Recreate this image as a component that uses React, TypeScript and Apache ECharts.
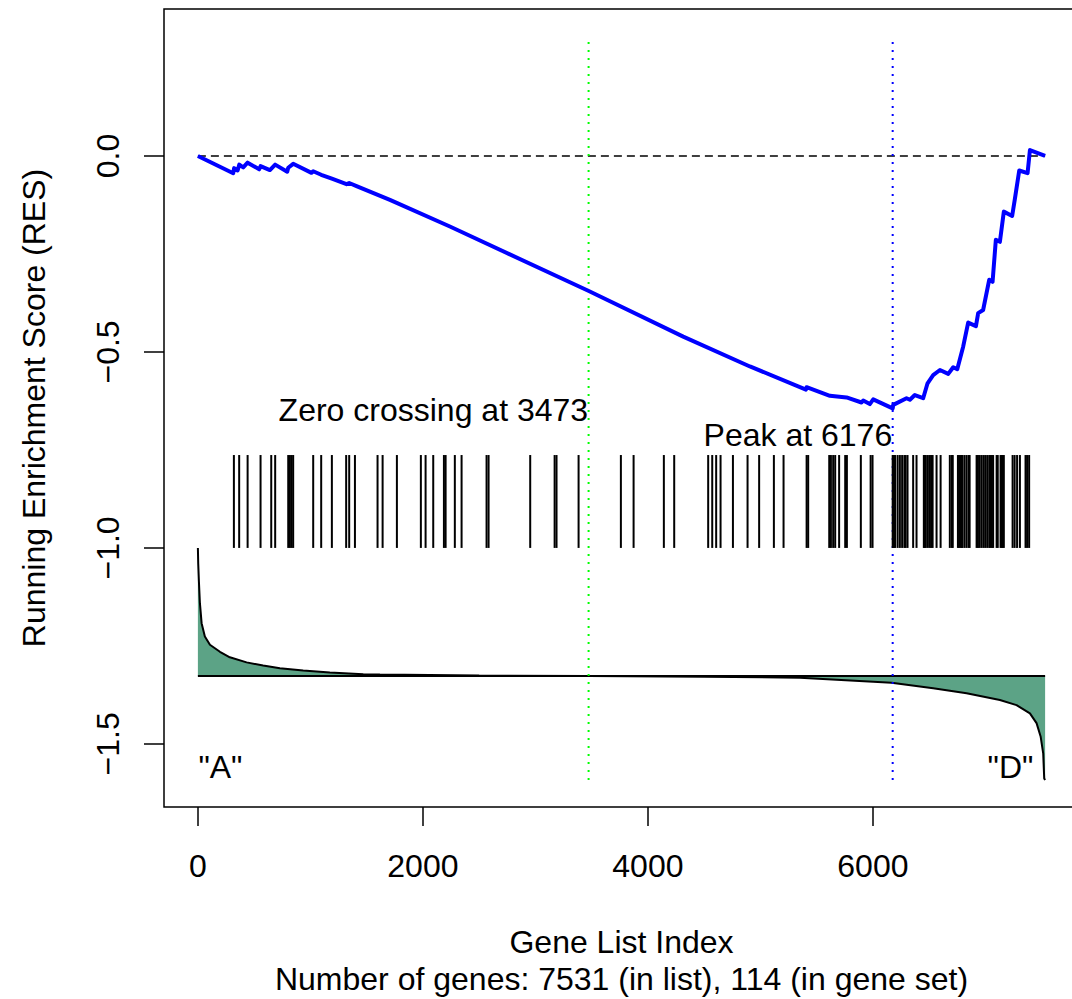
import React, { useEffect, useRef } from "react";
import * as echarts from "echarts";

// ---- data ----
const N_GENES = 7531;
const X_TICKS = [0, 2000, 4000, 6000];
const Y_TICKS = [-1.5, -1.0, -0.5, 0.0];

// running enrichment score (vertices of the curve)
const esIdx = [0, 314, 322, 353, 368, 403, 442, 545, 557, 640, 687, 794, 803, 847, 1010, 1025, 1096, 1191, 1321, 1345, 1410, 1707, 2240, 3470, 4314, 4907, 5405, 5411, 5618, 5766, 5899, 5914, 5973, 6003, 6176, 6181, 6299, 6329, 6373, 6447, 6486, 6536, 6596, 6670, 6714, 6750, 6803, 6847, 6916, 6936, 6980, 7034, 7064, 7093, 7129, 7164, 7238, 7262, 7301, 7375, 7396, 7531];
const esVal = [0, -0.044, -0.031, -0.037, -0.022, -0.029, -0.017, -0.034, -0.026, -0.036, -0.022, -0.04, -0.03, -0.02, -0.043, -0.039, -0.048, -0.058, -0.072, -0.069, -0.077, -0.112, -0.18, -0.344, -0.461, -0.537, -0.596, -0.59, -0.612, -0.616, -0.629, -0.624, -0.633, -0.621, -0.644, -0.635, -0.618, -0.622, -0.61, -0.618, -0.58, -0.559, -0.546, -0.556, -0.539, -0.544, -0.486, -0.425, -0.434, -0.401, -0.393, -0.316, -0.321, -0.214, -0.219, -0.142, -0.153, -0.11, -0.037, -0.044, 0.015, 0.0];

// positions of the gene-set members in the ranked list
const hits = [320, 367, 442, 557, 652, 687, 803, 818, 833, 847, 1025, 1096, 1191, 1318, 1345, 1396, 1597, 1642, 1769, 1982, 2024, 2092, 2187, 2202, 2284, 2344, 2566, 2584, 2954, 3171, 3188, 3384,
  3760, 3873, 4142, 4234, 4536, 4572, 4607, 4646, 4756, 4886, 4989, 5120, 5206, 5411, 5425, 5612, 5627, 5647, 5665, 5700, 5754, 5769, 5893, 5980, 5997,
  6176, 6180, 6190, 6198, 6220, 6240, 6260, 6280, 6291, 6308, 6358, 6388, 6453, 6460, 6471, 6489, 6507, 6520, 6531, 6566, 6602, 6684, 6702, 6710, 6756, 6767, 6780, 6790, 6797, 6815, 6833, 6851, 6860, 6922, 6933, 6945, 6963, 6981, 6998, 7016, 7034, 7045, 7058, 7069, 7100, 7110, 7135, 7145, 7153, 7164, 7242, 7260, 7282, 7307, 7357, 7371, 7389];

// scaled ranked-list metric (drawn in the lower band)
const rankIdx = [0, 3, 9, 18, 33, 62, 107, 196, 284, 433, 580, 729, 936, 1173, 1470, 1618, 2500, 3473, 4500, 5351, 6166, 6536, 6833, 7129, 7277, 7396, 7455, 7491, 7514, 7523, 7531];
const rankVal = [-1.0, -1.04, -1.085, -1.141, -1.192, -1.226, -1.247, -1.265, -1.279, -1.292, -1.3, -1.307, -1.313, -1.318, -1.322, -1.323, -1.3255, -1.327, -1.3285, -1.331, -1.344, -1.358, -1.371, -1.388, -1.401, -1.422, -1.447, -1.481, -1.524, -1.588, -1.592];
const RANK_BASE = -1.327;

const ZERO_CROSS = 3473;
const PEAK = 6176;

const HIT_TOP = -0.763;
const HIT_BOTTOM = -1.0;
const VLINE_TOP = 0.291;
const VLINE_BOTTOM = -1.592;

const X_MIN = -301.24;
const X_MAX = 7832.24;
const Y_MIN = -1.661;
const Y_MAX = 0.375;

const FONT = '"Liberation Sans", Arial, Helvetica, sans-serif';
const FS = 32;

export default function App() {
  const ref = useRef<HTMLDivElement>(null);
  useEffect(() => {
    if (!ref.current) return;
    const chart = echarts.init(ref.current, null, { renderer: "svg" });
    const esData = esIdx.map((x, i) => [x, esVal[i]]);
    const rankData = rankIdx.map((x, i) => [x, rankVal[i]]);
    const textSeries = (x: number, y: number, text: string, pos: string) => ({
      type: "scatter",
      symbolSize: 1,
      itemStyle: { color: "rgba(0,0,0,0)", opacity: 1 },
      silent: true,
      data: [[x, y]],
      label: {
        show: true,
        formatter: text,
        position: pos,
        distance: 0,
        fontSize: FS,
        fontFamily: FONT,
        color: "#000",
        opacity: 1,
      },
      z: 7,
    });
    const option: any = {
      animation: false,
      grid: {
        left: 164,
        right: -7,
        top: 9,
        bottom: 192,
        show: true,
        borderColor: "#000",
        borderWidth: 1.5,
        backgroundColor: "transparent",
        containLabel: false,
        outerBoundsMode: "none",
      },
      xAxis: {
        type: "value",
        min: X_MIN,
        max: X_MAX,
        splitLine: { show: false },
        axisLine: { show: false, onZero: false },
        axisTick: { show: true, customValues: X_TICKS, length: 19, lineStyle: { color: "#000", width: 1.5 } },
        axisLabel: {
          customValues: X_TICKS,
          fontSize: FS,
          fontFamily: FONT,
          color: "#000",
          margin: 43,
          formatter: (v: number) => String(v),
        },
      },
      yAxis: {
        type: "value",
        min: Y_MIN,
        max: Y_MAX,
        splitLine: { show: false },
        axisLine: { show: false, onZero: false },
        axisTick: { show: true, customValues: Y_TICKS, length: 20, lineStyle: { color: "#000", width: 1.5 } },
        axisLabel: {
          customValues: Y_TICKS,
          rotate: 90,
          fontSize: FS,
          fontFamily: FONT,
          color: "#000",
          margin: 40,
          formatter: (v: number) => v.toFixed(1).replace("-", "\u2212"),
        },
      },
      graphic: [
        {
          type: "text",
          x: 621.5,
          y: 942,
          style: { text: "Gene List Index", fontSize: FS, fontFamily: FONT, fill: "#000", align: "center", verticalAlign: "middle" },
        },
        {
          type: "text",
          x: 621.5,
          y: 979,
          style: {
            text: "Number of genes: 7531 (in list), 114 (in gene set)",
            fontSize: FS,
            fontFamily: FONT,
            fill: "#000",
            align: "center",
            verticalAlign: "middle",
          },
        },
        {
          type: "text",
          x: 34,
          y: 408,
          rotation: Math.PI / 2,
          style: {
            text: "Running Enrichment Score (RES)",
            fontSize: FS,
            fontFamily: FONT,
            fill: "#000",
            align: "center",
            verticalAlign: "middle",
          },
        },
      ],
      series: [
        {
          type: "line",
          data: rankData,
          symbol: "none",
          lineStyle: { color: "#000", width: 2 },
          areaStyle: { color: "#5ca386", origin: RANK_BASE, opacity: 1 },
          z: 2,
        },
        {
          type: "line",
          data: [[0, RANK_BASE], [N_GENES, RANK_BASE]],
          symbol: "none",
          lineStyle: { color: "#000", width: 2 },
          z: 3,
        },
        {
          type: "line",
          data: [[0, 0], [N_GENES, 0]],
          symbol: "none",
          lineStyle: { color: "#000", width: 1.5, type: [8, 5] },
          z: 3,
        },
        {
          type: "line",
          data: [[ZERO_CROSS, VLINE_TOP], [ZERO_CROSS, VLINE_BOTTOM]],
          symbol: "none",
          lineStyle: { color: "#00ff00", width: 2, type: [2, 6] },
          z: 4,
        },
        {
          type: "line",
          data: [[PEAK, VLINE_TOP], [PEAK, VLINE_BOTTOM]],
          symbol: "none",
          lineStyle: { color: "#0000ff", width: 2, type: [2, 6] },
          z: 4,
        },
        {
          type: "custom",
          data: hits.map((h) => [h, HIT_TOP]),
          encode: { x: 0, y: 1 },
          renderItem: (params: any, api: any) => {
            const x = api.value(0);
            const p1 = api.coord([x, HIT_TOP]);
            const p2 = api.coord([x, HIT_BOTTOM]);
            return {
              type: "line",
              shape: { x1: p1[0], y1: p1[1], x2: p2[0], y2: p2[1] },
              style: { stroke: "#000", lineWidth: 2 },
            };
          },
          z: 5,
        },
        {
          type: "line",
          data: esData,
          symbol: "none",
          lineStyle: { color: "#0000ff", width: 4, join: "round" },
          z: 6,
        },
        textSeries(ZERO_CROSS, -0.648, "Zero crossing at 3473", "left"),
        textSeries(PEAK, -0.712, "Peak at 6176", "left"),
        textSeries(0, -1.559, '"A"', "right"),
        textSeries(7431, -1.559, '"D"', "left"),
      ],
    };
    chart.setOption(option);
    return () => chart.dispose();
  }, []);
  return (
    <div
      ref={ref}
      style={{ position: "fixed", left: 0, top: 0, width: 1072, height: 999, background: "#fff" }}
    />
  );
}
